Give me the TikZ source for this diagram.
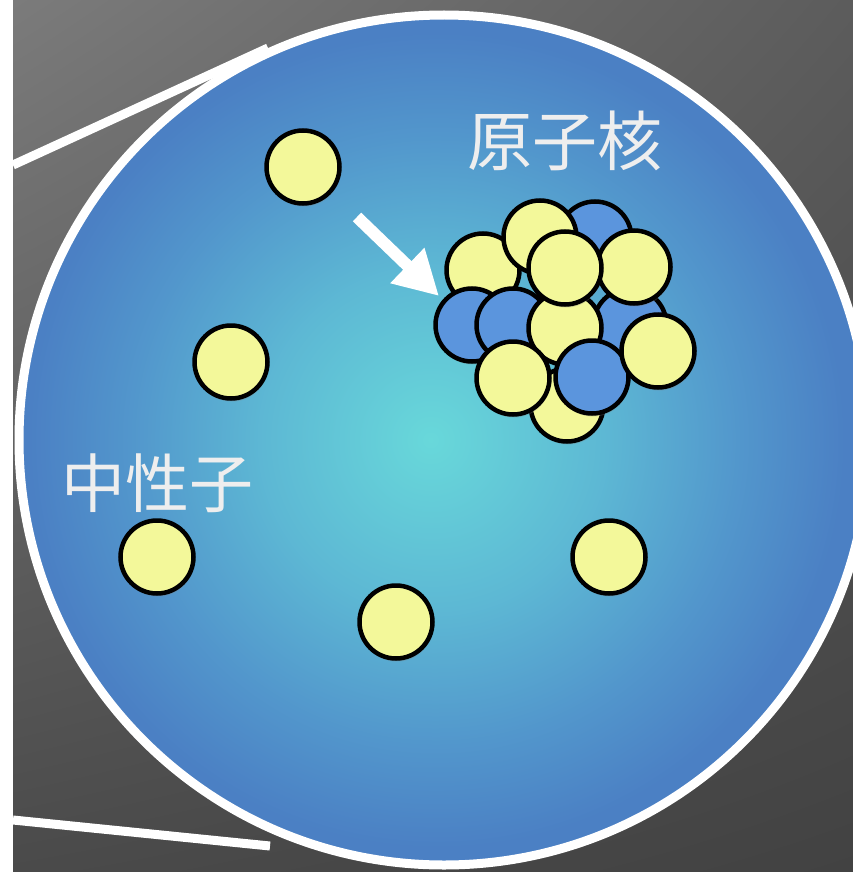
\documentclass[tikz,border=0pt]{standalone}
\usepackage{fontspec}
\newfontfamily\cjk{Noto Sans CJK JP}
\usetikzlibrary{arrows.meta,shadows,shadings}

% colours
\definecolor{bgtl}{HTML}{7B7B7B}
\definecolor{bgtr}{HTML}{5C5C5C}
\definecolor{bgbl}{HTML}{4A4A4A}
\definecolor{bgbr}{HTML}{424242}
\definecolor{glowc}{HTML}{68D8DA}
\definecolor{glowm}{HTML}{5DB8D4}
\definecolor{glowo}{HTML}{5296CC}
\definecolor{glowe}{HTML}{4B80C4}
\definecolor{nyellow}{HTML}{F3F89A}
\definecolor{pblue}{HTML}{5B95DD}
\definecolor{labelgray}{HTML}{EEEEEE}

% radial glow of the atom interior
\pgfdeclareradialshading{atomglow}{\pgfpoint{-0.8bp}{0bp}}{%
  color(0bp)=(glowc); color(10bp)=(glowm); color(18bp)=(glowo);
  color(24bp)=(glowe); color(25bp)=(glowe); color(50bp)=(glowe)}

\tikzset{
  particle/.style={circle, draw=black, line width=4.5pt, minimum size=73pt,
    inner sep=0pt,
    drop shadow={shadow xshift=1pt, shadow yshift=-3pt, opacity=0.3}},
  neutron/.style={particle, fill=nyellow},
  proton/.style={particle, fill=pblue},
  zoomline/.style={draw=white, line width=9pt},
  bigarrow/.style={draw=white, line width=12pt,
    -{Triangle[length=44pt,width=46pt]}},
  biglabel/.style={text=labelgray, inner sep=0pt, anchor=base,
    font=\cjk\fontsize{65pt}{70pt}\selectfont},
}

\begin{document}
\begin{tikzpicture}[x=1pt, y=-1pt]
  \useasboundingbox (0,0) rectangle (853,872);
  \clip (0,0) rectangle (853,872);
  \fill[white] (0,0) rectangle (853,872);

  % dark backdrop
  \shade[upper left=bgtl, upper right=bgtr, lower left=bgbl, lower right=bgbr]
    (13,0) rectangle (853,872);

  % magnification lines
  \coordinate (zt0) at (13,165);
  \coordinate (zt1) at (268,48);
  \coordinate (zb0) at (13,820);
  \coordinate (zb1) at (270,846);
  \draw[zoomline] (zt0) -- (zt1);
  \draw[zoomline] (zb0) -- (zb1);

  % the atom
  \shade[shading=atomglow] (444,440) circle (425pt);
  \draw[white, line width=9pt] (444,440) circle (425pt);

  % free neutrons
  \node[neutron] (f1) at (303,167) {};
  \node[neutron] (f2) at (231,362) {};
  \node[neutron] (f3) at (157,557) {};
  \node[neutron] (f4) at (396,622) {};
  \node[neutron] (f5) at (609,557) {};

  % nucleus, back to front
  \node[neutron] (k1)  at (567,405) {};
  \node[proton]  (k2)  at (595,238) {};
  \node[neutron] (k3)  at (483,270) {};
  \node[neutron] (k4)  at (540,237) {};
  \node[proton]  (k5)  at (630,325) {};
  \node[proton]  (k6)  at (472,325) {};
  \node[proton]  (k7)  at (513,325) {};
  \node[neutron] (k8)  at (565,328) {};
  \node[neutron] (k9)  at (634,267) {};
  \node[neutron] (k10) at (565,268) {};
  \node[neutron] (k11) at (513,378) {};
  \node[proton]  (k12) at (592,377) {};
  \node[neutron] (k13) at (658,351) {};

  % pointer to the nucleus
  \coordinate (arrtail) at (357,217);
  \coordinate (arrtip) at (439,296);
  \draw[bigarrow] (arrtail) -- (arrtip);

  % labels
  \node[biglabel] (nuclabel) at (565,165) {原子核};
  \node[biglabel, font=\cjk\fontsize{64pt}{70pt}\selectfont] (neulabel) at (157,507) {中性子};
\end{tikzpicture}
\end{document}
